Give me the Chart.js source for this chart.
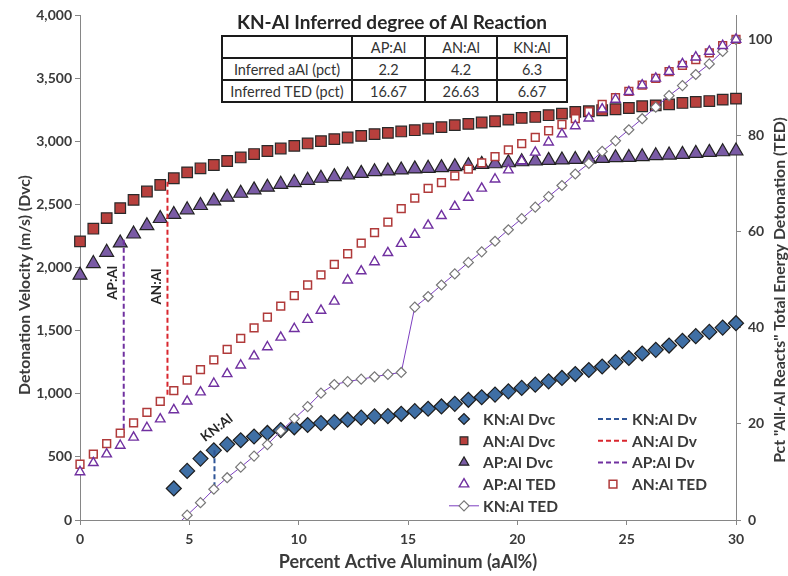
<!DOCTYPE html>
<html>
<head>
<meta charset="utf-8">
<script src="https://cdn.jsdelivr.net/npm/chart.js@4.4.1/dist/chart.umd.min.js"></script>
<style>
  html, body { margin: 0; padding: 0; background: #fff; }
  #wrap { position: relative; width: 788px; height: 576px; }
  #title { position: absolute; left: 190px; top: 10px; width: 404px; text-align: center;
           font: bold 19px Lato, sans-serif; color: #262626; }
  #tbl { position: absolute; left: 221px; top: 35px; border-collapse: collapse; background: #fff;
         font: 14.5px Lato, sans-serif; color: #333; }
  #tbl td { border: 2px solid #1a1a1a; height: 20px; padding: 0 3px; text-align: center; }
</style>
</head>
<body>
<div id="wrap">
  <canvas id="chart" width="788" height="576"></canvas>
  <div id="title">KN-Al Inferred degree of Al Reaction</div>
  <table id="tbl"></table>
</div>
<script>
// x positions (percent active aluminum)
const xs = [0, 0.61, 1.22, 1.84, 2.45, 3.06, 3.67, 4.29, 4.90, 5.51, 6.12, 6.73, 7.35, 7.96, 8.57, 9.18, 9.80,
  10.41, 11.02, 11.63, 12.24, 12.86, 13.47, 14.08, 14.69, 15.31, 15.92, 16.53, 17.14, 17.76, 18.37, 18.98, 19.59,
  20.20, 20.82, 21.43, 22.04, 22.65, 23.27, 23.88, 24.49, 25.10, 25.71, 26.33, 26.94, 27.55, 28.16, 28.78, 29.39, 30.00];

// detonation velocity, m/s (left axis)
const knDvc = [null, null, null, null, null, null, null, 250, 389, 487, 552, 600, 632, 662, 690, 713, 735, 753, 768,
  776, 795, 811, 821, 823, 842, 863, 882, 900, 921, 953, 973, 994, 1020, 1047, 1073, 1099, 1126, 1157, 1189, 1217,
  1252, 1284, 1320, 1349, 1383, 1420, 1457, 1491, 1525, 1560];
const anDvc = [2209, 2309, 2393, 2472, 2538, 2604, 2656, 2709, 2756, 2788, 2814, 2846, 2874, 2901, 2925, 2945, 2966,
  2985, 3003, 3019, 3032, 3045, 3059, 3069, 3080, 3090, 3103, 3114, 3130, 3140, 3151, 3161, 3174, 3187, 3195, 3209,
  3221, 3235, 3240, 3248, 3256, 3266, 3280, 3287, 3295, 3306, 3314, 3321, 3332, 3340];
const apDvc = [1941, 2033, 2122, 2196, 2267, 2333, 2390, 2422, 2459, 2493, 2530, 2559, 2590, 2617, 2638, 2661, 2675,
  2693, 2709, 2722, 2735, 2748, 2761, 2767, 2775, 2783, 2788, 2793, 2801, 2809, 2819, 2824, 2832, 2840, 2846, 2851,
  2854, 2858, 2861, 2866, 2872, 2874, 2880, 2888, 2893, 2898, 2906, 2914, 2919, 2925];

// total energy detonation, pct (right axis)
const apTed = [10.0, 11.9, 13.7, 15.5, 17.2, 19.2, 21.0, 22.9, 24.7, 26.6, 28.4, 30.4, 32.2, 34.1, 36.0, 38.0, 39.8,
  41.7, 43.6, 45.5, 49.9, 51.8, 53.7, 55.6, 57.5, 59.4, 61.3, 63.3, 65.2, 67.1, 69.0, 70.9, 72.8, 74.7, 76.5, 78.6,
  80.3, 82.0, 83.6, 85.5, 87.5, 89.1, 90.5, 91.9, 93.3, 94.9, 96.3, 97.5, 98.7, 100];
const anTed = [11.6, 13.7, 15.9, 18.1, 20.2, 22.4, 24.7, 26.9, 29.1, 31.3, 33.3, 35.5, 37.8, 40.0, 42.2, 44.5, 46.7,
  48.9, 51.0, 53.2, 55.4, 57.6, 59.8, 62.0, 64.8, 67.0, 69.0, 70.2, 71.6, 73.0, 74.3, 75.6, 77.0, 78.3, 79.6, 81.0,
  82.3, 83.5, 85.0, 86.5, 87.9, 89.2, 90.5, 91.9, 93.3, 94.6, 95.8, 97.2, 98.7, 100];
const knTed = [null, null, null, null, null, null, null, -1.6, 1.0, 3.6, 6.4, 8.8, 11.0, 13.3, 15.7, 18.5, 21.1, 23.6,
  26.4, 28.2, 28.8, 29.3, 29.8, 30.3, 30.7, 44.3, 46.5, 48.9, 51.2, 53.6, 55.8, 58.0, 60.4, 62.7, 65.1, 67.3, 69.6,
  72.0, 74.2, 76.7, 78.9, 81.2, 83.5, 85.9, 88.3, 90.4, 92.7, 94.9, 97.5, 100];

// inferred drop lines (x = aAl, y from Dvc down to TED level, in m/s)
const knDvX = [6.15, 6.15], knDvY = [552, 250];
const anDvX = [4.0, 4.0],   anDvY = [2682, 973];
const apDvX = [2.0, 2.0],   apDvY = [2222, 690];

// summary table
const tblCols = ['AP:Al', 'AN:Al', 'KN:Al'];
const tblAAl = ['2.2', '4.2', '6.3'];
const tblTed = ['16.67', '26.63', '6.67'];

const tbl = document.getElementById('tbl');
const widths = [122, 65, 64, 62];
[[''].concat(tblCols), ['Inferred aAl (pct)'].concat(tblAAl), ['Inferred TED (pct)'].concat(tblTed)]
  .forEach(row => {
    const tr = tbl.insertRow();
    row.forEach((v, i) => { const td = tr.insertCell(); td.textContent = v; td.style.width = widths[i] + 'px'; });
  });

const pts = (ys) => xs.map((x, i) => ({x: x, y: ys[i]})).filter(p => p.y !== null);
const seg = (xv, yv) => xv.map((x, i) => ({x: x, y: yv[i]}));

const TXT = '#3a3a3a';
const AXIS = '#868686';
const FONT = 'Lato, sans-serif';

const datasets = [
  {label: 'KN:Al Dvc', data: pts(knDvc), yAxisID: 'y', order: 3, clip: false,
   pointStyle: 'rectRot', pointRadius: 7.5, pointBackgroundColor: '#3F6FA5', pointBorderColor: '#1e1e1e',
   pointBorderWidth: 1.2, backgroundColor: '#3F6FA5', borderColor: '#1e1e1e'},
  {label: 'AN:Al Dvc', data: pts(anDvc), yAxisID: 'y', order: 3, clip: false,
   pointStyle: 'rect', pointRadius: 7.5, pointBackgroundColor: '#B8403D', pointBorderColor: '#2a2a2a',
   pointBorderWidth: 1.2, backgroundColor: '#B8403D', borderColor: '#2a2a2a'},
  {label: 'AP:Al Dvc', data: pts(apDvc), yAxisID: 'y', order: 3, clip: false,
   pointStyle: 'triangle', pointRadius: 8, pointBackgroundColor: '#7A5BA5', pointBorderColor: '#222',
   pointBorderWidth: 1.2, backgroundColor: '#7A5BA5', borderColor: '#222'},
  {label: 'AP:Al TED', data: pts(apTed), yAxisID: 'y2', order: 1, clip: false,
   pointStyle: 'triangle', pointRadius: 5.5, pointBackgroundColor: '#fff', pointBorderColor: '#7030A0',
   pointBorderWidth: 1.4, borderColor: '#9966CC', backgroundColor: '#fff'},
  {label: 'KN:Al TED', data: pts(knTed), yAxisID: 'y2', order: 1, showLine: true,
   clip: {left: 20, top: 20, right: 20, bottom: 0},
   pointStyle: 'rectRot', pointRadius: 5, pointBackgroundColor: '#fff', pointBorderColor: '#777',
   pointBorderWidth: 1.2, borderColor: '#7D3FC0', borderWidth: 1, backgroundColor: '#fff'},
  {label: 'AN:Al TED', data: pts(anTed), yAxisID: 'y2', order: 1, clip: false,
   pointStyle: 'rect', pointRadius: 5.5, pointBackgroundColor: '#fff', pointBorderColor: '#B03A3A',
   pointBorderWidth: 1.5, borderColor: '#C0504D', backgroundColor: '#fff'},
  {label: 'KN:Al Dv', data: seg(knDvX, knDvY), yAxisID: 'y', order: 2, showLine: true, pointRadius: 0,
   borderColor: '#2F5597', borderWidth: 2, borderDash: [5, 3]},
  {label: 'AN:Al Dv', data: seg(anDvX, anDvY), yAxisID: 'y', order: 2, showLine: true, pointRadius: 0,
   borderColor: '#D9262E', borderWidth: 2, borderDash: [5, 3]},
  {label: 'AP:Al Dv', data: seg(apDvX, apDvY), yAxisID: 'y', order: 2, showLine: true, pointRadius: 0,
   borderColor: '#7030A0', borderWidth: 2, borderDash: [5, 3]}
];

// legend layout: two columns, dataset indexes
const legendCols = [[0, 1, 2, 3, 4], [6, 7, 8, 5]];

const extras = {
  id: 'extras',
  afterDraw(chart) {
    const ctx = chart.ctx;
    const sx = chart.scales.x, sy = chart.scales.y;
    ctx.save();
    ctx.fillStyle = '#262626';
    ctx.font = 'bold 13.5px ' + FONT;
    ctx.textAlign = 'center';
    ctx.textBaseline = 'middle';
    [['AP:Al', 1.5, 1880, -Math.PI / 2], ['AN:Al', 3.5, 1850, -Math.PI / 2], ['KN:Al', 6.25, 730, -0.65]]
      .forEach(n => {
        ctx.save();
        ctx.translate(sx.getPixelForValue(n[1]), sy.getPixelForValue(n[2]));
        ctx.rotate(n[3]);
        ctx.fillText(n[0], 0, 0);
        ctx.restore();
      });

    // axis titles (both vertical ones read bottom-to-top)
    ctx.fillStyle = TXT;
    ctx.font = 'bold 15.8px ' + FONT;
    [['Detonation Velocity (m/s) (Dvc)', 25, 285], ['Pct "All-Al Reacts" Total Energy Detonation (TED)', 780, 290]]
      .forEach(t => {
        ctx.save();
        ctx.translate(t[1], t[2]);
        ctx.rotate(-Math.PI / 2);
        ctx.fillText(t[0], 0, 0);
        ctx.restore();
      });

    // legend
    ctx.font = 'bold 15.5px ' + FONT;
    ctx.textAlign = 'left';
    const colX = [449, 598], rowY = 419, rowH = 21.7;
    legendCols.forEach((col, c) => {
      col.forEach((di, r) => {
        const ds = datasets[di];
        const x0 = colX[c], y = rowY + r * rowH, xm = x0 + 15;
        if (ds.showLine) {
          ctx.save();
          ctx.strokeStyle = ds.borderColor;
          ctx.lineWidth = ds.borderWidth || 1;
          ctx.setLineDash(ds.borderDash || []);
          ctx.beginPath(); ctx.moveTo(x0, y); ctx.lineTo(x0 + 30, y); ctx.stroke();
          ctx.restore();
        }
        if (ds.pointRadius > 0) {
          const small = ds.yAxisID === 'y';
          ctx.save();
          ctx.fillStyle = ds.pointBackgroundColor;
          ctx.strokeStyle = ds.pointBorderColor;
          ctx.lineWidth = ds.pointBorderWidth;
          Chart.helpers.drawPoint(ctx, {pointStyle: ds.pointStyle, radius: small ? 5.5 : ds.pointRadius,
            rotation: 0, borderWidth: ds.pointBorderWidth}, xm, y);
          ctx.restore();
        }
        ctx.fillText(ds.label, x0 + 34, y + 1);
      });
    });
    ctx.restore();
  }
};

const tickFont = {family: FONT, size: 14, weight: 'bold'};
const grid = {display: true, drawOnChartArea: false, drawTicks: true, tickLength: 5, color: AXIS};

new Chart(document.getElementById('chart'), {
  type: 'scatter',
  data: {datasets: datasets},
  options: {
    responsive: false,
    animation: false,
    layout: {padding: {top: 13, left: 0, right: 0, bottom: 0}},
    plugins: {legend: {display: false}, tooltip: {enabled: false}},
    scales: {
      x: {
        type: 'linear', min: 0, max: 30,
        ticks: {stepSize: 5, font: tickFont, color: TXT, padding: 6},
        grid: grid, border: {color: AXIS},
        title: {display: true, text: 'Percent Active Aluminum (aAl%)', color: TXT,
                font: {family: FONT, size: 18, weight: 'bold'}, padding: {top: 0, bottom: 3}},
        afterFit: s => { s.height = 56; }
      },
      y: {
        position: 'left', min: 0, max: 4000,
        ticks: {stepSize: 500, font: tickFont, color: TXT, padding: 3},
        grid: grid, border: {color: AXIS},
        afterFit: s => { s.width = 80; }
      },
      y2: {
        position: 'right', min: 0, max: 105,
        ticks: {stepSize: 20, includeBounds: false, font: tickFont, color: TXT, padding: 7},
        grid: grid, border: {color: AXIS},
        afterFit: s => { s.width = 52; }
      }
    }
  },
  plugins: [extras]
});
</script>
</body>
</html>
